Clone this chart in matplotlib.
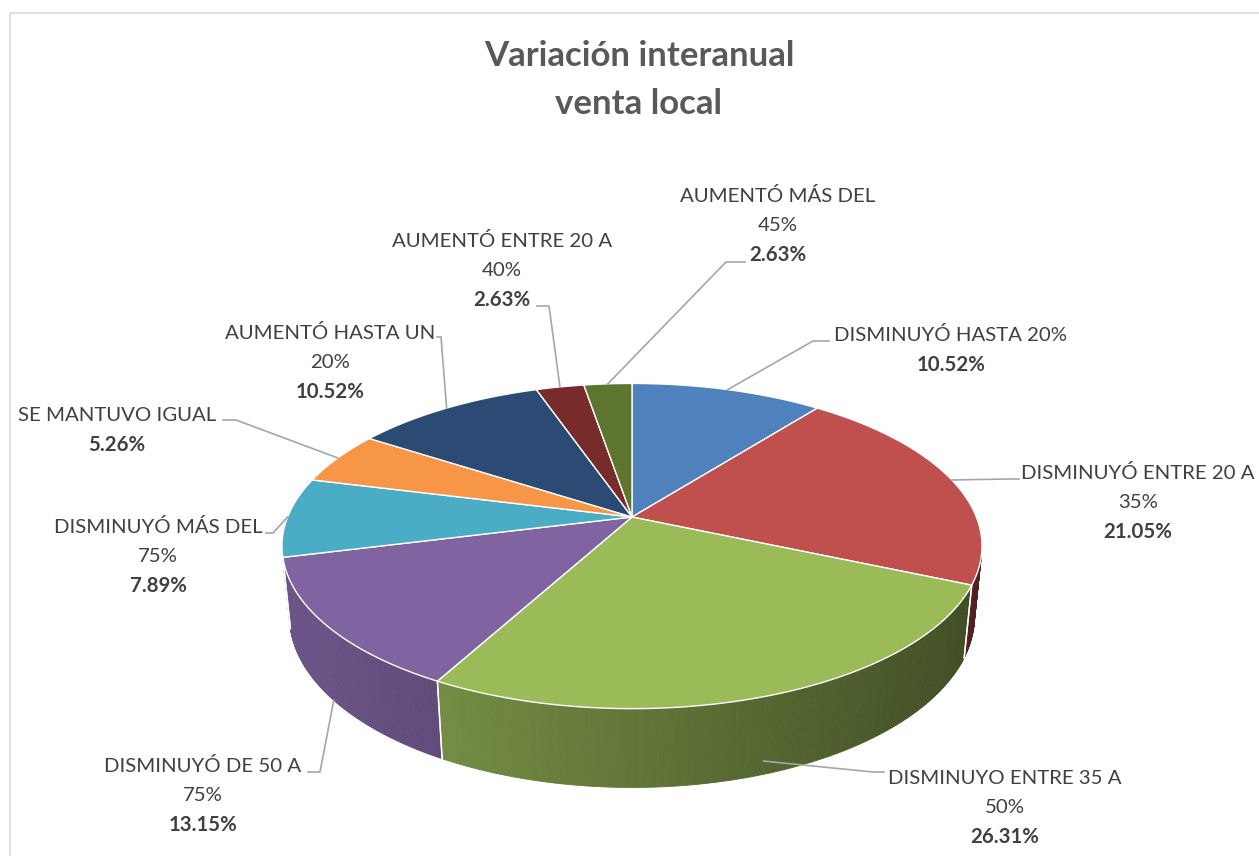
import numpy as np
import matplotlib.pyplot as plt
from matplotlib.patches import Polygon, Rectangle

# datos (sentido horario desde las 12)
categorias = ["DISMINUYÓ HASTA 20%", "DISMINUYÓ ENTRE 20 A\n35%", "DISMINUYO ENTRE 35 A\n50%",
              "DISMINUYÓ DE 50 A\n75%", "DISMINUYÓ MÁS DEL\n75%", "SE MANTUVO IGUAL",
              "AUMENTÓ HASTA UN\n20%", "AUMENTÓ ENTRE 20 A\n40%", "AUMENTÓ MÁS DEL\n45%"]
valores = [10.52, 21.05, 26.31, 13.15, 7.89, 5.26, 10.52, 2.63, 2.63]
colores = ["#4F81BD", "#C0504D", "#9BBB59", "#8064A2", "#4BACC6", "#F79646",
           "#2B4B74", "#772B2A", "#5E7530"]
titulo = "Variación interanual\nventa local"

# posicion de etiquetas: centro x, y primera linea, codo y final de la guia, z del origen
etiq_xy = [(951, 335), (1138, 473), (1005, 778), (203, 766), (158, 527),
           (117, 415), (330, 333), (502, 241), (778, 196)]
guia = [((813, 341), (829, 341)), ((1008, 479), (1019, 479)), ((873, 772), (884, 772)),
        ((320, 772), (308, 772)), ((273, 533), (266, 533)), ((236, 420), (223, 420)),
        ((441, 337), (437, 337)), ((549, 306), (537, 306)), ((726, 262), (745, 262))]
guia_z = [0, 0, -0.19, -0.23, 0, 0, 0, 0, 0]

# proyeccion en perspectiva
CX, CY = 632, 517
ANG = np.radians(27.2)
CA, SA = np.cos(ANG), np.sin(ANG)
D = 4.98
F = 1715
H = 0.23


def proj(theta, r=1.0, z=0.0):
    t = np.radians(theta)
    x = r * np.sin(t)
    y = r * np.cos(t)
    depth = D + y * CA - z * SA
    return CX + x * F / depth, CY - (y * SA + z * CA) * F / depth


def darken(c, f):
    rgb = np.array([int(c[i:i + 2], 16) for i in (1, 3, 5)]) / 255.0
    return tuple(np.clip(rgb * f, 0, 1))


fig = plt.figure(figsize=(12.59, 8.56), dpi=100)
ax = fig.add_axes([0, 0, 1, 1])
ax.set_xlim(0, 1259)
ax.set_ylim(856, 0)
ax.axis("off")
plt.rcParams['font.family'] = ['Lato', 'DejaVu Sans']

ax.add_patch(Rectangle((10.5, 12.5), 1260, 860, fill=False, ec="#D9D9D9", lw=1.2))

total = sum(valores)
bordes = np.concatenate([[0], np.cumsum(valores)]) / total * 360

# pared lateral (solo la parte visible)
vis0 = np.degrees(np.arccos(-1 / (D * CA)))
vis1 = 360 - vis0
for i, c in enumerate(colores):
    a0, a1 = max(bordes[i], vis0), min(bordes[i + 1], vis1)
    if a1 <= a0:
        continue
    n = max(2, int((a1 - a0) / 0.5))
    ts = np.linspace(a0, a1, n + 1)
    for t0, t1 in zip(ts[:-1], ts[1:]):
        pts = [proj(t0), proj(t1), proj(t1, z=-H), proj(t0, z=-H)]
        sx = np.mean([p[0] for p in pts])
        f = 0.63 - 0.00062 * (sx - CX)
        col = darken(c, f)
        ax.add_patch(Polygon(pts, closed=True, fc=col, ec=col, lw=0.6))
    for a in (bordes[i], bordes[i + 1]):
        if vis0 < a < vis1:
            ax.plot(*zip(proj(a), proj(a, z=-H)), color="white", lw=1.0)

# cara superior
for i, c in enumerate(colores):
    ts = np.linspace(bordes[i], bordes[i + 1], 80)
    pts = [proj(0, r=0)] + [proj(t) for t in ts]
    ax.add_patch(Polygon(pts, closed=True, fc=c, ec="white", lw=1.0, joinstyle="round"))

# etiquetas
for i, cat in enumerate(categorias):
    mid = (bordes[i] + bordes[i + 1]) / 2
    start = proj(mid, z=guia_z[i])
    knee, end = guia[i]
    ax.plot([start[0], knee[0], end[0]], [start[1], knee[1], end[1]], color="#A6A6A6", lw=1.2)
    cx, y0 = etiq_xy[i]
    lineas = cat.split("\n")
    for j, ln in enumerate(lineas):
        ax.text(cx, y0 + j * 29.5, ln, ha="center", va="center", fontsize=14.7, color="#404040")
    ax.text(cx, y0 + len(lineas) * 29.5, f"{valores[i]:.2f}%", ha="center", va="center",
            fontsize=14.7, fontweight="bold", color="#404040")

for j, ln in enumerate(titulo.split("\n")):
    ax.text(639, 56 + j * 48, ln, ha="center", va="center", fontsize=25, fontweight="bold",
            color="#595959")

fig.savefig("out.png", dpi=100)
